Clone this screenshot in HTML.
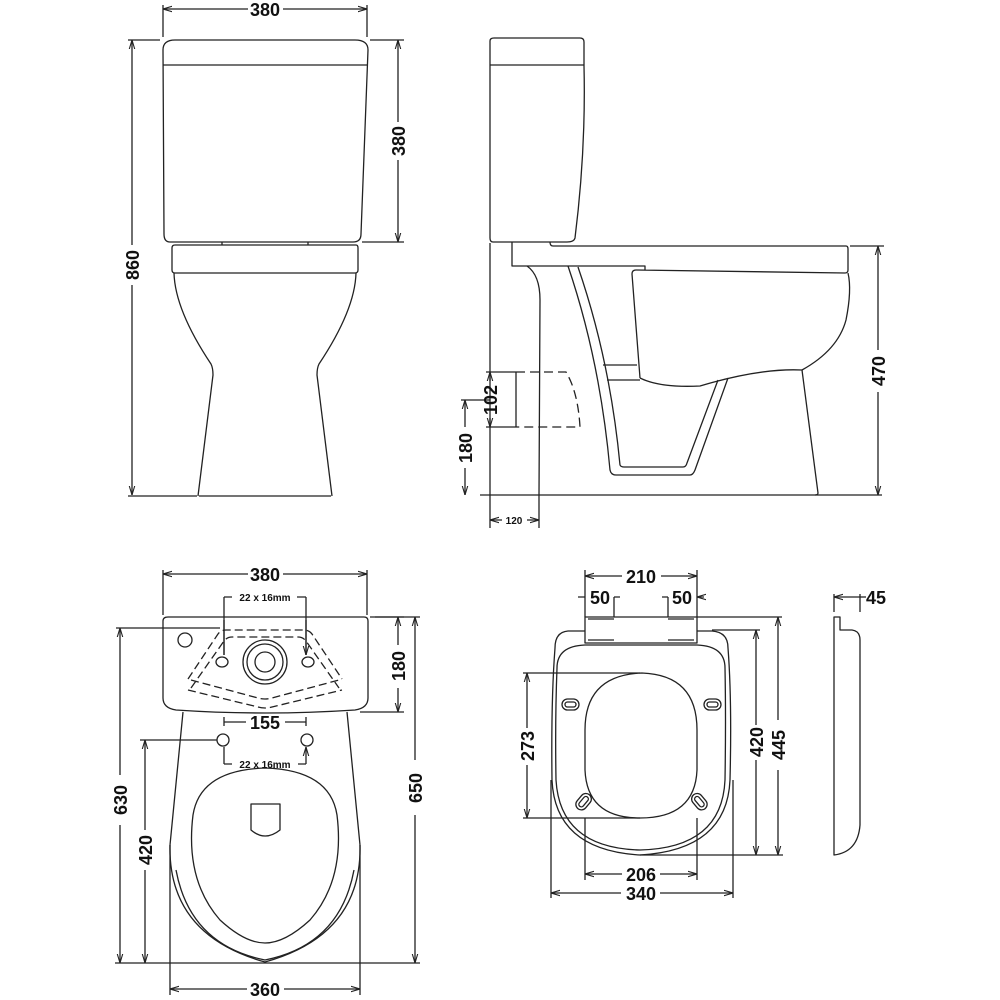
<!DOCTYPE html>
<html><head><meta charset="utf-8"><style>
html,body{margin:0;padding:0;background:#fff}
svg{display:block}
text{font-family:"Liberation Sans",sans-serif;font-weight:bold;fill:#111}
.t{font-size:18px}
.s{font-size:10px}
</style></head><body>
<svg width="1000" height="1000" viewBox="0 0 1000 1000" xmlns="http://www.w3.org/2000/svg">
<defs>
<marker id="a" viewBox="0 0 10 10" refX="10" refY="5" markerWidth="7" markerHeight="7" orient="auto-start-reverse"><path d="M0,2 L10,5 L0,8" fill="none" stroke="#222" stroke-width="1.2"/></marker>
</defs>
<g fill="none" stroke="#222" stroke-width="1.3" stroke-linejoin="round">
<!-- FRONT VIEW -->
<path d="M163,5V37 M367,5V37"/>
<path d="M163,9H248 M283,9H367" marker-start="url(#a)" marker-end="url(#a)"/>
<path d="M170,242 Q164,242 164,234 L163,50 Q163,40 175,40 H355 Q368,40 368,50 L361,234 Q361,242 353,242 Z"/>
<path d="M163,65 H368"/>
<path d="M222,242V245 M308,242V245"/>
<path d="M370,40H404 M362,242H404"/>
<path d="M398,40V122 M398,160V242" marker-start="url(#a)" marker-end="url(#a)"/>
<path d="M128,40H160"/>
<path d="M132,40V245 M132,285V495" marker-start="url(#a)" marker-end="url(#a)"/>
<path d="M175,245 H356 Q358,245 358,248 V270 Q358,273 355,273 H175 Q172,273 172,270 V248 Q172,245 175,245Z"/>
<path d="M174,273 Q175,310 211,364 Q213,368 213,375 L198,496 M356,273 Q355,310 319,364 Q317,368 317,375 L332,496"/>
<path d="M128,496 H197 M199,496H331"/>
<!-- SIDE VIEW -->
<path d="M493,242 Q490,242 490,238 V41 Q490,38 494,38 H580 Q584,38 584,42 V66 Q586,150 575,238 Q574,242 567,242 Z"/>
<path d="M490,65H584"/>
<path d="M490,243V528 M539,495V528"/>
<path d="M512,242V266 H645 V270 M550,242 Q550,246 553,246 H846 Q848,246 848,249 V270 Q848,273 845,273 L636,270 Q632,270 632,274 L640,378"/>
<path d="M848,273 Q852,290 846,320 Q838,350 802,370"/>
<path d="M640,378 Q660,388 700,386 Q760,368 802,370 L818,493 Q818,495 815,495"/>
<path d="M527,266 Q540,275 540,300 L539,495"/>
<path d="M568,266 Q600,360 610,470 Q611,475 616,475 H690 Q693,475 695,470 L728,378"/>
<path d="M578,267 Q610,360 620,465 Q621,467 624,467 H683 Q686,467 687,463 L718,380"/>
<path d="M603,365H637 M607,380H640"/>
<path d="M480,495H882"/>
<path d="M516,372 V427" />
<path d="M516,372 H566 Q578,392 580,427 H516" stroke-dasharray="9,5"/>
<path d="M486,372H516 M486,427H516"/>
<path d="M490,372V381 M490,418V427" marker-start="url(#a)" marker-end="url(#a)"/>
<path d="M461,400H490"/>
<path d="M465,400V427 M465,468V495" marker-start="url(#a)" marker-end="url(#a)"/>
<path d="M850,246H884"/>
<path d="M878,246V350 M878,392V495" marker-start="url(#a)" marker-end="url(#a)"/>
<path d="M490,520H502 M527,520H539" marker-start="url(#a)" marker-end="url(#a)"/>
<!-- PLAN VIEW -->
<path d="M163,570V615 M367,570V615"/>
<path d="M163,574H248 M283,574H367" marker-start="url(#a)" marker-end="url(#a)"/>
<path d="M168,617 H364 Q368,617 368,621 V698 Q368,708 355,710 Q265,716 176,710 Q163,708 163,698 V621 Q163,617 168,617Z"/>
<circle cx="185" cy="640" r="7"/>
<circle cx="265" cy="662" r="22"/><circle cx="265" cy="662" r="18"/><circle cx="265" cy="662" r="10"/>
<ellipse cx="222" cy="662" rx="6" ry="5"/><ellipse cx="308" cy="662" rx="6" ry="5"/>
<path d="M188,679 L218,634 Q221,630 226,630 H304 Q309,630 312,634 L342,679" stroke-dasharray="8,4"/>
<path d="M191,688 L224,641 Q227,637 232,637 H298 Q303,637 306,641 L339,688" stroke-dasharray="8,4"/>
<path d="M191,680 L258,698 Q265,700 272,698 L339,680" stroke-dasharray="8,4"/>
<path d="M188,690 L258,707 Q265,709 272,707 L342,690" stroke-dasharray="8,4"/>
<path d="M224,597H232 M297,597H306 M224,597V655 M306,597V655"/>
<path d="M224,620V655 M306,620V655" marker-end="url(#a)"/>
<path d="M370,617H404 M360,712H404"/>
<path d="M398,617V645 M398,688V712" marker-start="url(#a)" marker-end="url(#a)"/>
<path d="M375,617H420"/>
<path d="M415,617V760 M415,815V963" marker-start="url(#a)" marker-end="url(#a)"/>
<path d="M116,628H220"/>
<path d="M120,628V775 M120,825V963" marker-start="url(#a)" marker-end="url(#a)"/>
<path d="M140,740H217"/>
<path d="M145,740V830 M145,870V963" marker-start="url(#a)" marker-end="url(#a)"/>
<path d="M183,712 L170,845 M347,712 L360,845"/>
<path d="M170,845 Q168,935 265,962 Q362,935 360,845"/>
<path d="M176,870 Q190,945 265,960 Q340,945 354,870"/>
<circle cx="223" cy="740" r="6"/><circle cx="307" cy="740" r="6"/>
<path d="M224,717V726 M306,717V726 M224,722H246 M285,722H306"/>
<path d="M224,764H232 M298,764H306"/>
<path d="M224,764V747 M306,764V747" marker-end="url(#a)"/>
<path d="M265,768 Q330,770 337,815 Q345,880 310,920 Q285,943 265,943 Q245,943 220,920 Q185,880 193,815 Q200,770 265,768Z"/>
<path d="M251,804 H280 V830 Q265,842 251,830 Z"/>
<path d="M115,963H420"/>
<path d="M170,845V995 M360,845V995"/>
<path d="M170,989H247 M284,989H360" marker-start="url(#a)" marker-end="url(#a)"/>
<!-- SEAT -->
<path d="M585,570V617 M697,570V617"/>
<path d="M585,576H622 M661,576H697" marker-start="url(#a)" marker-end="url(#a)"/>
<path d="M578,597H585 M620,597H614 M662,597H668 M704,597H697" marker-end="url(#a)"/>
<path d="M614,597V617 M668,597V617"/>
<path d="M585,617H697V643H585Z"/>
<path d="M588,619H614 M668,619H694 M588,640H614 M668,640H694"/>
<path d="M697,617H782"/>
<path d="M585,631 H568 Q555,632 555,648 Q551,700 552,780 Q555,850 640,855 Q727,850 730,780 Q732,700 728,648 Q728,632 712,631 H697"/>
<path d="M585,645 Q557,646 557,668 Q555,720 556,780 Q560,848 640,850 Q722,848 725,780 Q726,720 725,668 Q725,646 697,645 Z"/>
<path d="M642,673 Q697,675 697,730 V770 Q695,818 640,818 Q587,818 585,770 V730 Q585,675 642,673Z"/>
<rect x="562" y="699" width="17" height="11" rx="5.5"/><rect x="565" y="702" width="11" height="5" rx="2.5"/>
<rect x="704" y="699" width="17" height="11" rx="5.5"/><rect x="707" y="702" width="11" height="5" rx="2.5"/>
<g transform="rotate(-50 584 802)"><rect x="575" y="796" width="18" height="11" rx="5.5"/><rect x="578" y="799" width="12" height="5" rx="2.5"/></g>
<g transform="rotate(50 699 802)"><rect x="690" y="796" width="18" height="11" rx="5.5"/><rect x="693" y="799" width="12" height="5" rx="2.5"/></g>
<path d="M523,673H640 M523,818H640"/>
<path d="M527,673V728 M527,765V818" marker-start="url(#a)" marker-end="url(#a)"/>
<path d="M712,630H760 M640,855H783"/>
<path d="M756,630V725 M756,760V855" marker-start="url(#a)" marker-end="url(#a)"/>
<path d="M778,617V720 M778,770V855" marker-start="url(#a)" marker-end="url(#a)"/>
<path d="M585,818V880 M697,818V880"/>
<path d="M585,874H622 M660,874H697" marker-start="url(#a)" marker-end="url(#a)"/>
<path d="M551,780V898 M733,780V898"/>
<path d="M551,893H621 M660,893H733" marker-start="url(#a)" marker-end="url(#a)"/>
<path d="M834,617 H840 V630 H852 Q860,631 860,640 V825 Q858,852 834,855 Z"/>
<path d="M834,594V612 M860,594V612"/>
<path d="M834,597H860" marker-start="url(#a)"/>
<path d="M860,597H866"/>
</g>
<g>
<text class="t" x="265" y="16" text-anchor="middle">380</text>
<text class="t" transform="translate(405,141) rotate(-90)" text-anchor="middle">380</text>
<text class="t" transform="translate(139,265) rotate(-90)" text-anchor="middle">860</text>
<text class="t" transform="translate(497,400) rotate(-90)" text-anchor="middle">102</text>
<text class="t" transform="translate(472,448) rotate(-90)" text-anchor="middle">180</text>
<text class="t" transform="translate(885,371) rotate(-90)" text-anchor="middle">470</text>
<text class="s" x="514" y="524" text-anchor="middle">120</text>
<text class="t" x="265" y="581" text-anchor="middle">380</text>
<text class="s" x="265" y="601" text-anchor="middle">22 x 16mm</text>
<text class="t" transform="translate(405,666) rotate(-90)" text-anchor="middle">180</text>
<text class="t" x="265" y="729" text-anchor="middle">155</text>
<text class="s" x="265" y="768" text-anchor="middle">22 x 16mm</text>
<text class="t" transform="translate(422,788) rotate(-90)" text-anchor="middle">650</text>
<text class="t" transform="translate(127,800) rotate(-90)" text-anchor="middle">630</text>
<text class="t" transform="translate(152,850) rotate(-90)" text-anchor="middle">420</text>
<text class="t" x="265" y="996" text-anchor="middle">360</text>
<text class="t" x="641" y="583" text-anchor="middle">210</text>
<text class="t" x="600" y="604" text-anchor="middle">50</text>
<text class="t" x="682" y="604" text-anchor="middle">50</text>
<text class="t" x="876" y="604" text-anchor="middle">45</text>
<text class="t" transform="translate(534,746) rotate(-90)" text-anchor="middle">273</text>
<text class="t" transform="translate(763,742) rotate(-90)" text-anchor="middle">420</text>
<text class="t" transform="translate(785,745) rotate(-90)" text-anchor="middle">445</text>
<text class="t" x="641" y="881" text-anchor="middle">206</text>
<text class="t" x="641" y="900" text-anchor="middle">340</text>
</g>
</svg>
</body></html>
